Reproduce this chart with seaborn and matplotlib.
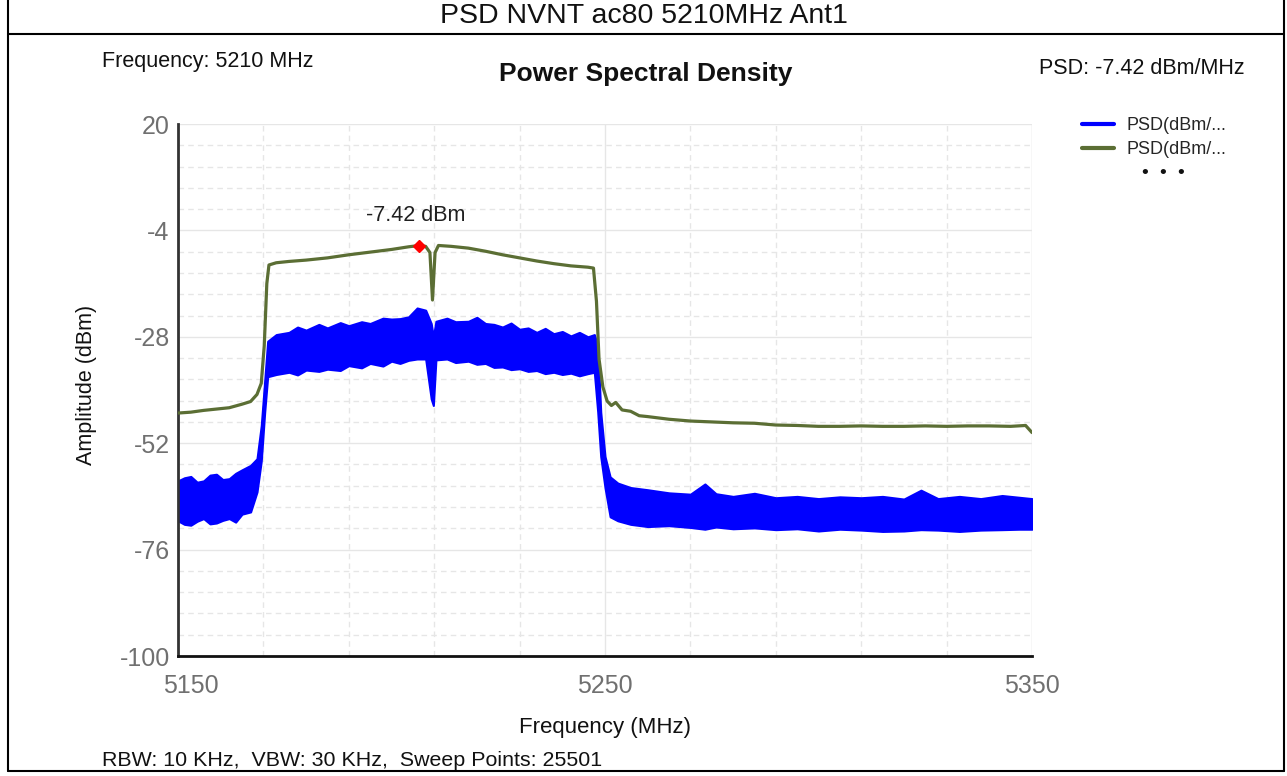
import numpy as np
import pandas as pd
import matplotlib
matplotlib.use("Agg")
import matplotlib.pyplot as plt
import matplotlib.transforms as mtransforms
import seaborn as sns
from matplotlib.lines import Line2D

# ---------------- data ----------------
green_freq = [5150.0, 5153, 5156, 5159, 5162, 5165, 5167, 5168.5, 5169.5, 5170.2, 5170.8, 5171.3,
              5173, 5176, 5180, 5185, 5190, 5195, 5200, 5204, 5206.4, 5208, 5209.0, 5209.6, 5210.2,
              5211, 5214, 5218, 5222, 5226, 5230, 5234, 5238, 5242, 5246, 5247.3, 5248.0, 5248.6,
              5249.5, 5250.5, 5251.5, 5252.5, 5254, 5256, 5258, 5260, 5265, 5270, 5275, 5280, 5285,
              5290, 5295, 5300, 5305, 5310, 5315, 5320, 5325, 5330, 5335, 5340, 5345, 5348.5, 5350]
green_psd = [-45.2, -45.0, -44.6, -44.3, -44.0, -43.2, -42.6, -41.0, -38.5, -30.0, -16.0, -11.8,
             -11.3, -11.0, -10.7, -10.2, -9.5, -8.9, -8.3, -7.7, -7.42, -7.6, -9.0, -19.7, -9.0,
             -7.4, -7.6, -8.0, -8.7, -9.5, -10.2, -10.9, -11.5, -12.0, -12.3, -12.5, -20.0, -33.0,
             -39.3, -42.5, -43.5, -42.8, -44.5, -44.8, -45.8, -46.0, -46.6, -47.0, -47.2, -47.4, -47.5,
             -47.9, -48.0, -48.2, -48.2, -48.1, -48.2, -48.2, -48.1, -48.2, -48.1, -48.1, -48.2, -48.0, -49.6]

blue_freq = [5150, 5151.5, 5153, 5154.5, 5156, 5157.5, 5159, 5160.5, 5162, 5163.5, 5165, 5167,
             5168.5, 5169.5, 5170.3, 5171, 5173, 5176, 5178, 5180, 5183, 5185, 5188, 5190, 5193,
             5195, 5198, 5200, 5202, 5204, 5206, 5208, 5209.3, 5209.8, 5210.4, 5213, 5215, 5218,
             5220, 5222, 5224, 5226, 5228, 5230, 5232, 5234, 5236, 5238, 5240, 5242, 5244, 5246,
             5247.5, 5248.3, 5249, 5250, 5251.2, 5253, 5256, 5260, 5265, 5270, 5273.4, 5276, 5280,
             5285, 5290, 5295, 5300, 5305, 5310, 5315, 5320, 5324, 5328, 5333, 5338, 5343, 5347, 5350]
blue_upper = [-60.5, -59.8, -59.5, -60.8, -60.5, -59.2, -59.0, -60.2, -60.0, -58.8, -58.0, -57.0,
              -55.5, -48.0, -38.0, -29.0, -27.5, -27.0, -25.8, -26.5, -25.2, -26.0, -24.8, -25.5, -24.6,
              -25.0, -23.8, -24.0, -23.9, -23.5, -21.5, -22.0, -25.0, -28.0, -24.5, -23.8, -24.6, -24.5,
              -23.6, -25.0, -25.2, -25.8, -24.9, -26.3, -26.0, -27.0, -26.1, -27.3, -26.8, -27.8, -27.0, -28.0,
              -27.5, -30.0, -45.0, -55.0, -59.6, -61.0, -62.0, -62.5, -63.2, -63.5, -61.2, -63.4, -64.0,
              -63.3, -64.3, -64.0, -64.5, -64.1, -64.3, -64.0, -64.6, -62.6, -64.5, -64.0, -64.5, -63.8, -64.2, -64.5]
blue_lower = [-69.5, -70.3, -70.5, -69.6, -69.0, -70.2, -70.0, -69.4, -69.0, -69.8, -68.0, -67.5,
              -63.0, -56.0, -45.0, -37.0, -36.5, -36.0, -36.6, -35.5, -35.8, -35.3, -35.6, -34.5, -35.0,
              -34.0, -34.6, -33.5, -34.0, -33.3, -33.0, -33.0, -42.0, -43.5, -33.2, -33.0, -33.8, -33.5,
              -34.2, -34.0, -34.9, -34.8, -35.4, -35.2, -35.8, -35.6, -36.3, -36.0, -36.5, -36.2, -36.8, -36.3,
              -36.0, -45.0, -55.0, -62.0, -68.6, -69.5, -70.3, -70.8, -70.6, -71.0, -71.4, -70.9, -71.3,
              -71.1, -71.5, -71.3, -71.8, -71.4, -71.6, -71.9, -71.8, -71.5, -71.6, -71.9, -71.6, -71.5, -71.4, -71.4]

marker_freq = 5206.4
marker_val = -7.42

y_ticks = [20, -4, -28, -52, -76, -100]
x_ticks = [5150, 5250, 5350]

# ---------------- figure ----------------
sns.set_theme(style="white")
plt.rcParams['font.family'] = ['Liberation Sans', 'DejaVu Sans']

W, H = 1287, 776
fig = plt.figure(figsize=(W / 100, H / 100), dpi=100)

def fx(px):
    return px / W

def fy(py):
    return 1 - py / H

ax = fig.add_axes([fx(178), fy(656), fx(1032) - fx(178), fy(124) - fy(656)])

df_green = pd.DataFrame({"freq": green_freq, "psd": green_psd})
df_blue_mid = pd.DataFrame({"freq": blue_freq,
                            "psd": [(u + l) / 2 for u, l in zip(blue_upper, blue_lower)]})

# grid
for v in np.arange(5150, 5351, 20):
    ax.axvline(v, color="#e6e6e6", lw=1.0, ls=(0, (4, 3)) if (v - 5150) % 100 else "-", zorder=0)
for v in np.arange(-100, 20.01, 4.8):
    major = abs(((v + 100) / 24) - round((v + 100) / 24)) < 1e-6
    ax.axhline(v, color="#e6e6e6", lw=1.0, ls="-" if major else (0, (4, 3)), zorder=0)

# blue trace (noisy band drawn as its envelope)
ax.fill_between(blue_freq, blue_lower, blue_upper, color="#0000ff", lw=1.5, edgecolor="#0000ff", zorder=2)
sns.lineplot(data=df_blue_mid, x="freq", y="psd", ax=ax, color="#0000ff", lw=1.5, zorder=2)

# green trace
sns.lineplot(data=df_green, x="freq", y="psd", ax=ax, color="#5b6e34", lw=2.3, zorder=3)

# marker
ax.plot([marker_freq], [marker_val], marker="D", color="#ff0000", ms=6, zorder=4)
ax.annotate("-7.42 dBm", xy=(marker_freq, marker_val), xytext=(-2, 14), textcoords="offset points",
            ha="center", va="bottom", fontsize=15.5, color="#202020")

ax.set_xlim(5150, 5350)
ax.set_ylim(-100, 20)
ax.set_xticks(x_ticks)
ax.set_yticks(y_ticks)
ax.set_xticklabels([str(t) for t in x_ticks], fontsize=18, color="#707070")
ax.set_yticklabels([str(t) for t in y_ticks], fontsize=18, color="#707070")
ax.tick_params(axis="x", length=0, pad=13)
ax.tick_params(axis="y", length=0, pad=6)
# first x label sits a little to the right, as in the reference
lbl0 = ax.get_xticklabels()[0]
lbl0.set_transform(lbl0.get_transform() + mtransforms.ScaledTranslation(13 / 100, 0, fig.dpi_scale_trans))
ax.set_xlabel("Frequency (MHz)", fontsize=16, color="#111111")
ax.set_ylabel("Amplitude (dBm)", fontsize=15.5, color="#111111")
ax.xaxis.set_label_coords(0.5, (656 - 717) / 532)
ax.yaxis.set_label_coords((97 - 178) / 854, (656 - 385) / 532)

for s in ["top", "right"]:
    ax.spines[s].set_visible(False)
ax.spines["left"].set_color("#333333")
ax.spines["left"].set_linewidth(2)
ax.spines["bottom"].set_color("#111111")
ax.spines["bottom"].set_linewidth(2)
ax.axvline(5350, color="#eeeeee", lw=1, zorder=0)

# legend
handles = [Line2D([0], [0], color="#0000ff", lw=3), Line2D([0], [0], color="#5b6e34", lw=3)]
leg = fig.legend(handles, ["PSD(dBm/...", "PSD(dBm/..."], loc="upper left",
                 bbox_to_anchor=(fx(1082), fy(117)), frameon=False, fontsize=13,
                 handlelength=1.75, handletextpad=0.7, labelspacing=0.38, borderaxespad=0,
                 borderpad=0)
for dx in (1145, 1163, 1181):
    fig.text(fx(dx), fy(173), "•", ha="center", va="center", fontsize=14, color="#111111")

# header texts
fig.text(0.5, fy(16), "PSD NVNT ac80 5210MHz Ant1", ha="center", va="center", fontsize=20.5, color="#111111")
fig.text(fx(102), fy(62), "Frequency: 5210 MHz", ha="left", va="center", fontsize=15.5, color="#111111")
fig.text(fx(646), fy(74), "Power Spectral Density", ha="center", va="center", fontsize=19,
         fontweight="bold", color="#111111")
fig.text(fx(1245), fy(69), "PSD: -7.42 dBm/MHz", ha="right", va="center", fontsize=15.5, color="#111111")
fig.text(fx(102), fy(760), "RBW: 10 KHz,  VBW: 30 KHz,  Sweep Points: 25501", ha="left", va="center",
         fontsize=15.4, color="#111111")

# outer border
bc = "#000000"
fig.add_artist(Line2D([fx(7.5), fx(7.5)], [fy(0), fy(770.5)], color=bc, lw=1.5))
fig.add_artist(Line2D([fx(1284), fx(1284)], [fy(0), fy(770.5)], color=bc, lw=1.5))
fig.add_artist(Line2D([fx(7.5), fx(1284)], [fy(770.5), fy(770.5)], color=bc, lw=1.5))
fig.add_artist(Line2D([fx(7.5), fx(1284)], [fy(34), fy(34)], color=bc, lw=1.5))

fig.savefig("out.png", dpi=100)
